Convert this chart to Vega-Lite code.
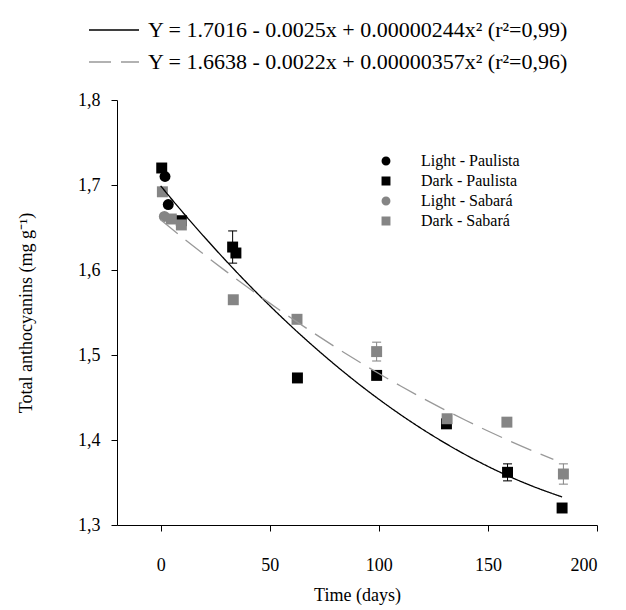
{
  "$schema": "https://vega.github.io/schema/vega-lite/v6.json",
  "width": 480,
  "height": 425,
  "autosize": {"type": "none"},
  "padding": {"left": 117, "top": 100, "right": 29, "bottom": 85},
  "background": "white",
  "config": {
    "view": {"stroke": null},
    "font": "Liberation Serif",
    "axis": {
      "labelFont": "Liberation Serif",
      "titleFont": "Liberation Serif",
      "labelFontSize": 18,
      "titleFontSize": 18,
      "titleFontWeight": "normal",
      "labelColor": "black",
      "titleColor": "black",
      "domainColor": "black",
      "tickColor": "black",
      "grid": false,
      "tickSize": 6
    },
    "legend": {
      "labelFont": "Liberation Serif",
      "labelColor": "black",
      "padding": 0,
      "symbolOpacity": 1
    }
  },
  "datasets": {
    "points": [
      {"series": "Light - Paulista", "t": 2, "v": 1.710},
      {"series": "Light - Paulista", "t": 3.5, "v": 1.677},
      {"series": "Dark - Paulista", "t": 0.5, "v": 1.720},
      {"series": "Dark - Paulista", "t": 9.5, "v": 1.658},
      {"series": "Dark - Paulista", "t": 33, "v": 1.627, "lo": 1.608, "hi": 1.646},
      {"series": "Dark - Paulista", "t": 34.5, "v": 1.620},
      {"series": "Dark - Paulista", "t": 62.7, "v": 1.473},
      {"series": "Dark - Paulista", "t": 99, "v": 1.476},
      {"series": "Dark - Paulista", "t": 131, "v": 1.419},
      {"series": "Dark - Paulista", "t": 159, "v": 1.362, "lo": 1.352, "hi": 1.372},
      {"series": "Dark - Paulista", "t": 184, "v": 1.320},
      {"series": "Light - Sabará", "t": 1.7, "v": 1.663},
      {"series": "Dark - Sabará", "t": 0.8, "v": 1.692},
      {"series": "Dark - Sabará", "t": 4.9, "v": 1.660},
      {"series": "Dark - Sabará", "t": 9.5, "v": 1.653},
      {"series": "Dark - Sabará", "t": 33.3, "v": 1.565},
      {"series": "Dark - Sabará", "t": 62.5, "v": 1.542},
      {"series": "Dark - Sabará", "t": 99, "v": 1.504, "lo": 1.493, "hi": 1.515},
      {"series": "Dark - Sabará", "t": 131.3, "v": 1.425},
      {"series": "Dark - Sabará", "t": 158.7, "v": 1.421},
      {"series": "Dark - Sabará", "t": 184.6, "v": 1.360, "lo": 1.348, "hi": 1.372}
    ],
    "curves": [
      {"fit": "Y = 1.7016 - 0.0025x + 0.00000244x² (r²=0,99)", "t": 0, "v": 1.699},
      {"fit": "Y = 1.7016 - 0.0025x + 0.00000244x² (r²=0,99)", "t": 10, "v": 1.6683},
      {"fit": "Y = 1.7016 - 0.0025x + 0.00000244x² (r²=0,99)", "t": 20, "v": 1.6389},
      {"fit": "Y = 1.7016 - 0.0025x + 0.00000244x² (r²=0,99)", "t": 30, "v": 1.6107},
      {"fit": "Y = 1.7016 - 0.0025x + 0.00000244x² (r²=0,99)", "t": 40, "v": 1.5837},
      {"fit": "Y = 1.7016 - 0.0025x + 0.00000244x² (r²=0,99)", "t": 50, "v": 1.5580},
      {"fit": "Y = 1.7016 - 0.0025x + 0.00000244x² (r²=0,99)", "t": 60, "v": 1.5335},
      {"fit": "Y = 1.7016 - 0.0025x + 0.00000244x² (r²=0,99)", "t": 70, "v": 1.5103},
      {"fit": "Y = 1.7016 - 0.0025x + 0.00000244x² (r²=0,99)", "t": 80, "v": 1.4883},
      {"fit": "Y = 1.7016 - 0.0025x + 0.00000244x² (r²=0,99)", "t": 90, "v": 1.4675},
      {"fit": "Y = 1.7016 - 0.0025x + 0.00000244x² (r²=0,99)", "t": 100, "v": 1.4480},
      {"fit": "Y = 1.7016 - 0.0025x + 0.00000244x² (r²=0,99)", "t": 110, "v": 1.4297},
      {"fit": "Y = 1.7016 - 0.0025x + 0.00000244x² (r²=0,99)", "t": 120, "v": 1.4127},
      {"fit": "Y = 1.7016 - 0.0025x + 0.00000244x² (r²=0,99)", "t": 130, "v": 1.3969},
      {"fit": "Y = 1.7016 - 0.0025x + 0.00000244x² (r²=0,99)", "t": 140, "v": 1.3823},
      {"fit": "Y = 1.7016 - 0.0025x + 0.00000244x² (r²=0,99)", "t": 150, "v": 1.3690},
      {"fit": "Y = 1.7016 - 0.0025x + 0.00000244x² (r²=0,99)", "t": 160, "v": 1.3569},
      {"fit": "Y = 1.7016 - 0.0025x + 0.00000244x² (r²=0,99)", "t": 170, "v": 1.3461},
      {"fit": "Y = 1.7016 - 0.0025x + 0.00000244x² (r²=0,99)", "t": 184, "v": 1.3330},
      {"fit": "Y = 1.6638 - 0.0022x + 0.00000357x² (r²=0,96)", "t": 0, "v": 1.659},
      {"fit": "Y = 1.6638 - 0.0022x + 0.00000357x² (r²=0,96)", "t": 10, "v": 1.6382},
      {"fit": "Y = 1.6638 - 0.0022x + 0.00000357x² (r²=0,96)", "t": 20, "v": 1.6180},
      {"fit": "Y = 1.6638 - 0.0022x + 0.00000357x² (r²=0,96)", "t": 30, "v": 1.5984},
      {"fit": "Y = 1.6638 - 0.0022x + 0.00000357x² (r²=0,96)", "t": 40, "v": 1.5794},
      {"fit": "Y = 1.6638 - 0.0022x + 0.00000357x² (r²=0,96)", "t": 50, "v": 1.5610},
      {"fit": "Y = 1.6638 - 0.0022x + 0.00000357x² (r²=0,96)", "t": 60, "v": 1.5432},
      {"fit": "Y = 1.6638 - 0.0022x + 0.00000357x² (r²=0,96)", "t": 70, "v": 1.5261},
      {"fit": "Y = 1.6638 - 0.0022x + 0.00000357x² (r²=0,96)", "t": 80, "v": 1.5095},
      {"fit": "Y = 1.6638 - 0.0022x + 0.00000357x² (r²=0,96)", "t": 90, "v": 1.4935},
      {"fit": "Y = 1.6638 - 0.0022x + 0.00000357x² (r²=0,96)", "t": 100, "v": 1.4782},
      {"fit": "Y = 1.6638 - 0.0022x + 0.00000357x² (r²=0,96)", "t": 110, "v": 1.4635},
      {"fit": "Y = 1.6638 - 0.0022x + 0.00000357x² (r²=0,96)", "t": 120, "v": 1.4493},
      {"fit": "Y = 1.6638 - 0.0022x + 0.00000357x² (r²=0,96)", "t": 130, "v": 1.4358},
      {"fit": "Y = 1.6638 - 0.0022x + 0.00000357x² (r²=0,96)", "t": 140, "v": 1.4229},
      {"fit": "Y = 1.6638 - 0.0022x + 0.00000357x² (r²=0,96)", "t": 150, "v": 1.4106},
      {"fit": "Y = 1.6638 - 0.0022x + 0.00000357x² (r²=0,96)", "t": 160, "v": 1.3989},
      {"fit": "Y = 1.6638 - 0.0022x + 0.00000357x² (r²=0,96)", "t": 170, "v": 1.3878},
      {"fit": "Y = 1.6638 - 0.0022x + 0.00000357x² (r²=0,96)", "t": 180, "v": 1.3773}
    ]
  },
  "encoding": {
    "x": {
      "field": "t", "type": "quantitative",
      "scale": {"domain": [-20, 200], "nice": false, "zero": false},
      "axis": {"title": "Time (days)", "values": [0, 50, 100, 150, 200], "labelPadding": 25, "titlePadding": 12}
    },
    "y": {
      "field": "v", "type": "quantitative",
      "scale": {"domain": [1.3, 1.8], "nice": false, "zero": false},
      "axis": {
        "title": "Total anthocyanins (mg g⁻¹)",
        "values": [1.3, 1.4, 1.5, 1.6, 1.7, 1.8],
        "labelExpr": "replace(format(datum.value, '.1f'), '.', ',')",
        "labelPadding": 11,
        "titlePadding": 42
      }
    }
  },
  "layer": [
    {
      "data": {"name": "points"},
      "transform": [{"filter": "isValid(datum.lo)"}],
      "mark": {"type": "rule", "strokeWidth": 1},
      "encoding": {
        "y": {"field": "lo", "type": "quantitative"},
        "y2": {"field": "hi"},
        "color": {"field": "series", "type": "nominal"}
      }
    },
    {
      "data": {"name": "points"},
      "transform": [{"filter": "isValid(datum.lo)"}],
      "mark": {"type": "tick", "orient": "horizontal", "size": 9, "thickness": 1.5},
      "encoding": {
        "y": {"field": "hi", "type": "quantitative"},
        "color": {"field": "series", "type": "nominal"}
      }
    },
    {
      "data": {"name": "points"},
      "transform": [{"filter": "isValid(datum.lo)"}],
      "mark": {"type": "tick", "orient": "horizontal", "size": 9, "thickness": 1.5},
      "encoding": {
        "y": {"field": "lo", "type": "quantitative"},
        "color": {"field": "series", "type": "nominal"}
      }
    },
    {
      "data": {"name": "points"},
      "mark": {"type": "point", "filled": true, "opacity": 1, "size": 120},
      "encoding": {
        "color": {
          "field": "series", "type": "nominal",
          "scale": {"domain": ["Light - Paulista", "Dark - Paulista", "Light - Sabará", "Dark - Sabará"], "range": ["#000000", "#000000", "#858585", "#858585"]},
          "legend": {
            "title": null, "orient": "none", "legendX": 261, "legendY": 53,
            "labelFontSize": 16, "symbolSize": 55, "labelOffset": 27, "rowPadding": 4, "symbolOpacity": 1
          }
        },
        "shape": {
          "field": "series", "type": "nominal",
          "scale": {"domain": ["Light - Paulista", "Dark - Paulista", "Light - Sabará", "Dark - Sabará"], "range": ["circle", "square", "circle", "square"]},
          "legend": {
            "title": null, "orient": "none", "legendX": 261, "legendY": 53,
            "labelFontSize": 16, "symbolSize": 55, "labelOffset": 27, "rowPadding": 4, "symbolOpacity": 1
          }
        }
      }
    },
    {
      "data": {"name": "curves"},
      "mark": {"type": "line", "interpolate": "monotone", "strokeWidth": 1.3},
      "encoding": {
        "stroke": {
          "field": "fit", "type": "nominal",
          "scale": {"domain": ["Y = 1.7016 - 0.0025x + 0.00000244x² (r²=0,99)", "Y = 1.6638 - 0.0022x + 0.00000357x² (r²=0,96)"], "range": ["#000000", "#999999"]},
          "legend": {
            "title": null, "orient": "none", "legendX": -29, "legendY": -81,
            "labelFontSize": 22, "labelLimit": 600, "symbolType": "stroke", "symbolSize": 2500,
            "symbolStrokeWidth": 1.3, "labelOffset": 8, "rowPadding": 10, "clipHeight": 22
          }
        },
        "strokeDash": {
          "field": "fit", "type": "nominal",
          "scale": {"domain": ["Y = 1.7016 - 0.0025x + 0.00000244x² (r²=0,99)", "Y = 1.6638 - 0.0022x + 0.00000357x² (r²=0,96)"], "range": [[1, 0], [22, 10]]},
          "legend": {
            "title": null, "orient": "none", "legendX": -29, "legendY": -81,
            "labelFontSize": 22, "labelLimit": 600, "symbolType": "stroke", "symbolSize": 2500,
            "symbolStrokeWidth": 1.3, "labelOffset": 8, "rowPadding": 10, "clipHeight": 22
          }
        }
      }
    }
  ]
}
